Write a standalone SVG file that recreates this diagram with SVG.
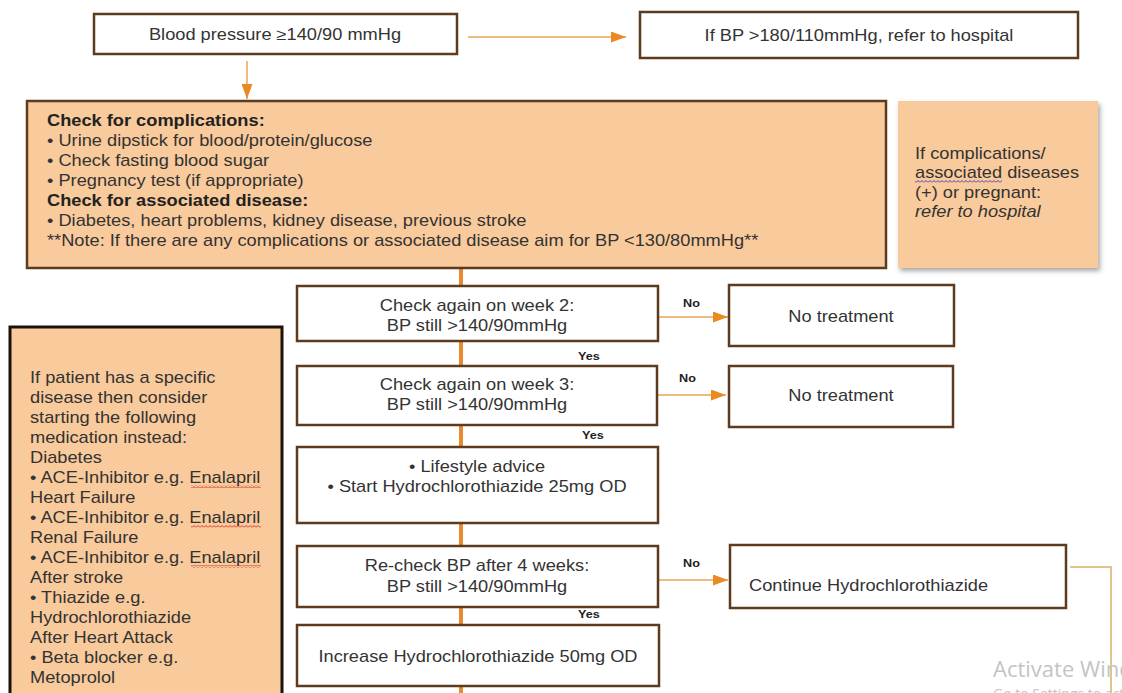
<svg xmlns="http://www.w3.org/2000/svg" width="1122" height="693" viewBox="0 0 1122 693">
<style>
.t{font-family:"Liberation Sans",Arial,sans-serif;font-size:16px;fill:#333}
.b{font-weight:bold;fill:#222}
.m{text-anchor:middle}
.lab{font-family:"Liberation Sans",Arial,sans-serif;font-size:11px;font-weight:bold;fill:#222}
.box{fill:#fff;stroke:#5C3B1E;stroke-width:2.5}
.obox{fill:#F9CA9B;stroke:#5C3B1E;stroke-width:2.5}
.flow{stroke:#E88A2E;stroke-width:4;fill:none}
.arr{stroke:#E9A555;stroke-width:1.5;fill:none}
.wm{font-family:"Open Sans","Noto Sans",sans-serif;fill:#c4c4c4}
</style>
<defs>
<marker id="ah" markerUnits="userSpaceOnUse" markerWidth="15" markerHeight="11" refX="15" refY="5.5" orient="auto">
<path d="M0,0 L15,5.5 L0,11 z" fill="#EC8A22"/>
</marker>
<filter id="sh" x="-10%" y="-10%" width="125%" height="125%">
<feDropShadow dx="2" dy="3" stdDeviation="2.5" flood-color="#000" flood-opacity="0.35"/>
</filter>
<pattern id="sqR" width="4" height="3" patternUnits="userSpaceOnUse"><path d="M0,2.5 L2,0.5 L4,2.5" stroke="#D02020" stroke-width="0.9" fill="none"/></pattern>
<pattern id="sqB" width="4" height="3" patternUnits="userSpaceOnUse"><path d="M0,2.5 L2,0.5 L4,2.5" stroke="#3030C0" stroke-width="0.9" fill="none"/></pattern>
</defs>
<rect width="1122" height="693" fill="#fff"/>

<g id="connectors">
<line class="arr" x1="468" y1="37" x2="626" y2="37" marker-end="url(#ah)"/>
<line class="arr" x1="247" y1="61" x2="247" y2="99" marker-end="url(#ah)"/>
<line class="flow" x1="461" y1="268" x2="461" y2="286"/>
<line class="flow" x1="461" y1="341" x2="461" y2="366"/>
<line class="flow" x1="461" y1="425" x2="461" y2="447"/>
<line class="flow" x1="461" y1="523" x2="461" y2="546"/>
<line class="flow" x1="461" y1="607" x2="461" y2="625"/>
<line class="flow" x1="461" y1="686" x2="461" y2="693"/>
<line class="arr" x1="658" y1="317" x2="728" y2="317" marker-end="url(#ah)"/>
<line class="arr" x1="657" y1="395" x2="726" y2="395" marker-end="url(#ah)"/>
<line class="arr" x1="659" y1="580" x2="728" y2="580" marker-end="url(#ah)"/>
<polyline points="1070,567 1111,567 1111,693" fill="none" stroke="#D8B36E" stroke-width="1.5"/>
<text class="lab" transform="translate(683,307) scale(1.15,1)">No</text>
<text class="lab" transform="translate(679,382) scale(1.15,1)">No</text>
<text class="lab" transform="translate(683,567) scale(1.15,1)">No</text>
<text class="lab" transform="translate(578,360) scale(1.15,1)">Yes</text>
<text class="lab" transform="translate(582,439) scale(1.15,1)">Yes</text>
<text class="lab" transform="translate(578,618) scale(1.15,1)">Yes</text>
</g>

<g id="bp">
<rect class="box" x="94" y="14" width="363" height="40"/>
<text class="t m" transform="translate(275,40) scale(1.14,1)">Blood pressure ≥140/90 mmHg</text>
</g>

<g id="refer-high">
<rect class="box" x="640" y="12" width="438" height="46"/>
<text class="t m" transform="translate(859,41) scale(1.14,1)">If BP &gt;180/110mmHg, refer to hospital</text>
</g>

<g id="check-complications">
<rect class="obox" x="27" y="101" width="859" height="167"/>
<g transform="translate(47,0) scale(1.14,1)">
<text class="t b" x="0" y="126">Check for complications:</text>
<text class="t" x="0" y="146">• Urine dipstick for blood/protein/glucose</text>
<text class="t" x="0" y="166">• Check fasting blood sugar</text>
<text class="t" x="0" y="186">• Pregnancy test (if appropriate)</text>
<text class="t b" x="0" y="206">Check for associated disease:</text>
<text class="t" x="0" y="226">• Diabetes, heart problems, kidney disease, previous stroke</text>
<text class="t" x="0" y="246">**Note: If there are any complications or associated disease aim for BP &lt;130/80mmHg**</text>
</g>
</g>

<g id="refer-complications">
<rect x="898" y="101" width="200" height="167" fill="#F9CA9B" filter="url(#sh)"/>
<g transform="translate(915,0) scale(1.14,1)">
<text class="t" x="0" y="159">If complications/</text>
<text class="t" x="0" y="178">associated diseases</text>
<text class="t" x="0" y="198">(+) or pregnant:</text>
<text class="t" x="0" y="217" font-style="italic">refer to hospital</text>
</g>
<rect x="915" y="180" width="87" height="3" fill="url(#sqB)"/>
</g>

<g id="week2">
<rect class="box" x="297" y="286" width="361" height="55"/>
<text class="t m" transform="translate(477,311) scale(1.14,1)">Check again on week 2:</text>
<text class="t m" transform="translate(477,331) scale(1.14,1)">BP still &gt;140/90mmHg</text>
</g>

<g id="no-treatment-1">
<rect class="box" x="729" y="285" width="225" height="61"/>
<text class="t m" transform="translate(841,322) scale(1.14,1)">No treatment</text>
</g>

<g id="week3">
<rect class="box" x="297" y="366" width="360" height="59"/>
<text class="t m" transform="translate(477,390) scale(1.14,1)">Check again on week 3:</text>
<text class="t m" transform="translate(477,410) scale(1.14,1)">BP still &gt;140/90mmHg</text>
</g>

<g id="no-treatment-2">
<rect class="box" x="729" y="366" width="224" height="61"/>
<text class="t m" transform="translate(841,401) scale(1.14,1)">No treatment</text>
</g>

<g id="lifestyle">
<rect class="box" x="297" y="447" width="361" height="76"/>
<text class="t m" transform="translate(477,472) scale(1.14,1)">• Lifestyle advice</text>
<text class="t m" transform="translate(477,492) scale(1.14,1)">• Start Hydrochlorothiazide 25mg OD</text>
</g>

<g id="recheck">
<rect class="box" x="297" y="546" width="361" height="61"/>
<text class="t m" transform="translate(477,571) scale(1.14,1)">Re-check BP after 4 weeks:</text>
<text class="t m" transform="translate(477,592) scale(1.14,1)">BP still &gt;140/90mmHg</text>
</g>

<g id="continue">
<rect class="box" x="730" y="545" width="336" height="63"/>
<text class="t" transform="translate(749,591) scale(1.14,1)">Continue Hydrochlorothiazide</text>
</g>

<g id="increase">
<rect class="box" x="297" y="625" width="362" height="61"/>
<text class="t m" transform="translate(478,662) scale(1.14,1)">Increase Hydrochlorothiazide 50mg OD</text>
</g>

<g id="specific-disease">
<rect x="10" y="327" width="272" height="380" fill="#F9CA9B" stroke="#1B1208" stroke-width="3"/>
<g transform="translate(30,0) scale(1.14,1)">
<text class="t" x="0" y="383">If patient has a specific</text>
<text class="t" x="0" y="403">disease then consider</text>
<text class="t" x="0" y="423">starting the following</text>
<text class="t" x="0" y="443">medication instead:</text>
<text class="t" x="0" y="463">Diabetes</text>
<text class="t" x="0" y="483">• ACE-Inhibitor e.g. Enalapril</text>
<text class="t" x="0" y="503">Heart Failure</text>
<text class="t" x="0" y="523">• ACE-Inhibitor e.g. Enalapril</text>
<text class="t" x="0" y="543">Renal Failure</text>
<text class="t" x="0" y="563">• ACE-Inhibitor e.g. Enalapril</text>
<text class="t" x="0" y="583">After stroke</text>
<text class="t" x="0" y="603">• Thiazide e.g.</text>
<text class="t" x="0" y="623">Hydrochlorothiazide</text>
<text class="t" x="0" y="643">After Heart Attack</text>
<text class="t" x="0" y="663">• Beta blocker e.g.</text>
<text class="t" x="0" y="683">Metoprolol</text>
</g>
<rect x="191" y="485" width="70" height="3" fill="url(#sqR)"/>
<rect x="191" y="525" width="70" height="3" fill="url(#sqR)"/>
<rect x="191" y="565" width="70" height="3" fill="url(#sqR)"/>
</g>

<g id="watermark">
<text class="wm" x="993" y="677" font-size="22">Activate Windows</text>
<text class="wm" x="993" y="699" font-size="14">Go to Settings to activate Windows.</text>
</g>
</svg>
